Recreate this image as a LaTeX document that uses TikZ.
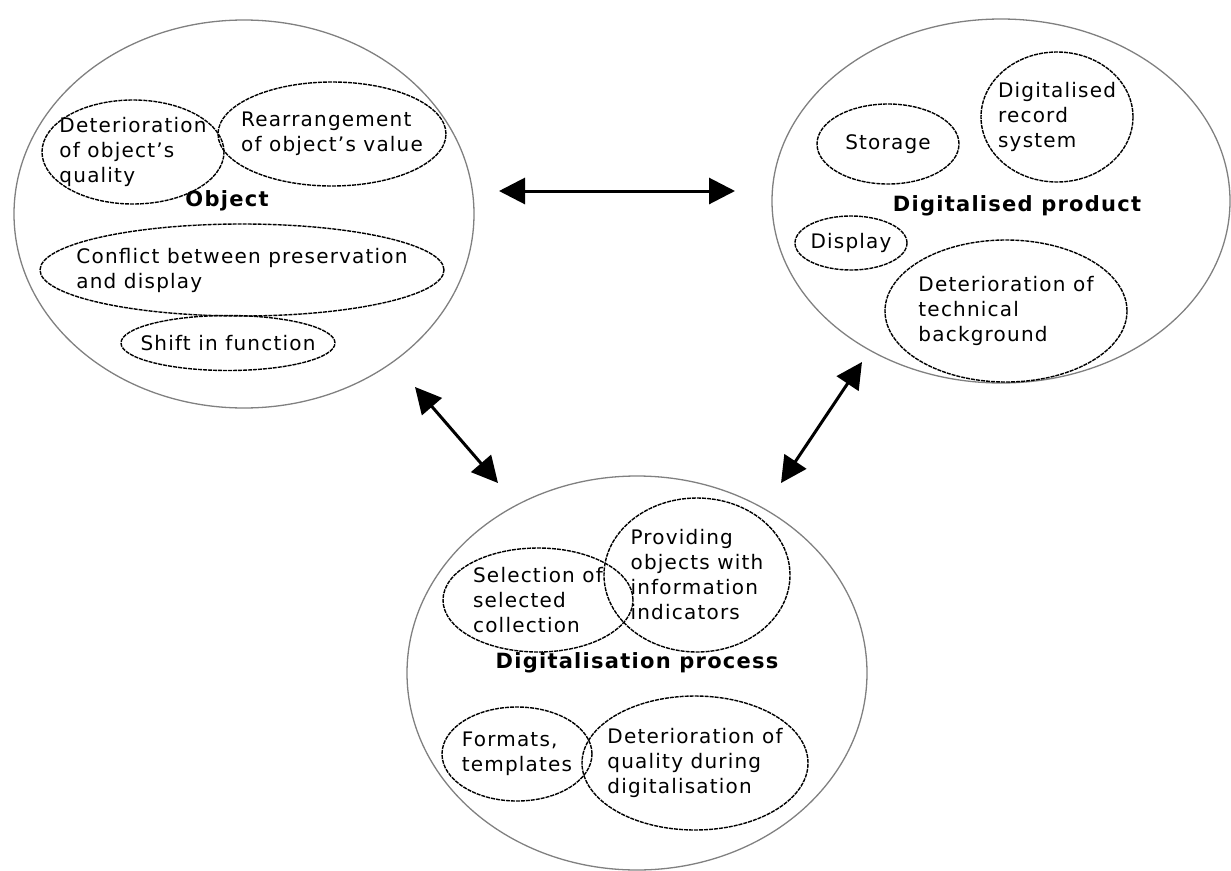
\documentclass[tikz,border=0pt]{standalone}
\usepackage{fontspec}
\setmainfont{DejaVu Sans}[LetterSpace=6]
\usetikzlibrary{shapes.geometric,arrows.meta}
\tikzset{
	whole/.style={ellipse,draw=black!50,line width=1.3pt,inner sep=0pt},
	part/.style={ellipse,draw=black,line width=1.4pt,dash pattern=on 4pt off 1pt,inner sep=0pt},
	txt/.style={align=left,inner sep=0pt,font=\fontsize{20}{25}\selectfont},
	title/.style={inner sep=0pt,font=\fontsize{21}{25}\selectfont\bfseries},
	link/.style={line width=3pt,{Triangle[length=26pt,width=26pt]}-{Triangle[length=26pt,width=26pt]}},
}
\begin{document}
\begin{tikzpicture}[x=1pt,y=-1pt]
		% page frame
		\useasboundingbox (0,0) rectangle (1231,870);
		
		% the three big circles
		\node[whole,minimum width=460,minimum height=388] (obj) at (244,214) {};
		\node[whole,minimum width=458,minimum height=364] (prod) at (1001,201) {};
		\node[whole,minimum width=460,minimum height=394] (proc) at (637,673) {};
		
		% Object
		\node[part,minimum width=182,minimum height=104,label={[txt]center:Deterioration\\of object’s\\quality}] (objQual) at (133,152) {};
		\node[part,minimum width=228,minimum height=104,label={[txt]center:Rearrangement\\of object’s value}] (objVal) at (332,134) {};
		\node[title] (objT) at (227,201) {Object};
		\node[part,minimum width=404,minimum height=92,label={[txt]center:Conflict between preservation\\and display}] (objConf) at (242,270) {};
		\node[part,minimum width=214,minimum height=55,label={[txt]center:Shift in function}] (objShift) at (228,343) {};
		
		% Digitalised product
		\node[part,minimum width=142,minimum height=80,label={[txt]center:Storage}] (prodStore) at (888,144) {};
		\node[part,minimum width=152,minimum height=130,label={[txt]center:Digitalised\\record\\system}] (prodRec) at (1057,117) {};
		\node[title] (prodT) at (1017,206) {Digitalised product};
		\node[part,minimum width=112,minimum height=54,label={[txt]center:Display}] (prodDisp) at (851,243) {};
		\node[part,minimum width=242,minimum height=142,label={[txt]center:Deterioration of\\technical\\background}] (prodTech) at (1006,311) {};
		
		% Digitalisation process
		\node[part,minimum width=190,minimum height=104,label={[txt]center:Selection of\\selected\\collection}] (procSel) at (538,600) {};
		\node[part,minimum width=186,minimum height=154,label={[txt]center:Providing\\objects with\\information\\indicators}] (procInfo) at (697,575) {};
		\node[title] (procT) at (637,663) {Digitalisation process};
		\node[part,minimum width=150,minimum height=94,label={[txt]center:Formats,\\templates}] (procForm) at (517,754) {};
		\node[part,minimum width=226,minimum height=134,label={[txt]center:Deterioration of\\quality during\\digitalisation}] (procQual) at (695,763) {};
		
		% arrow ends
		\coordinate (objR) at (499,191);
		\coordinate (prodL) at (735,191);
		\coordinate (objB) at (415,387);
		\coordinate (procL) at (498,483);
		\coordinate (prodB) at (862,362);
		\coordinate (procR) at (781,483);
		
		% connectors
		\draw[link] (objR) -- (prodL);
		\draw[link] (objB) -- (procL);
		\draw[link] (prodB) -- (procR);
		
\end{tikzpicture}
\end{document}
